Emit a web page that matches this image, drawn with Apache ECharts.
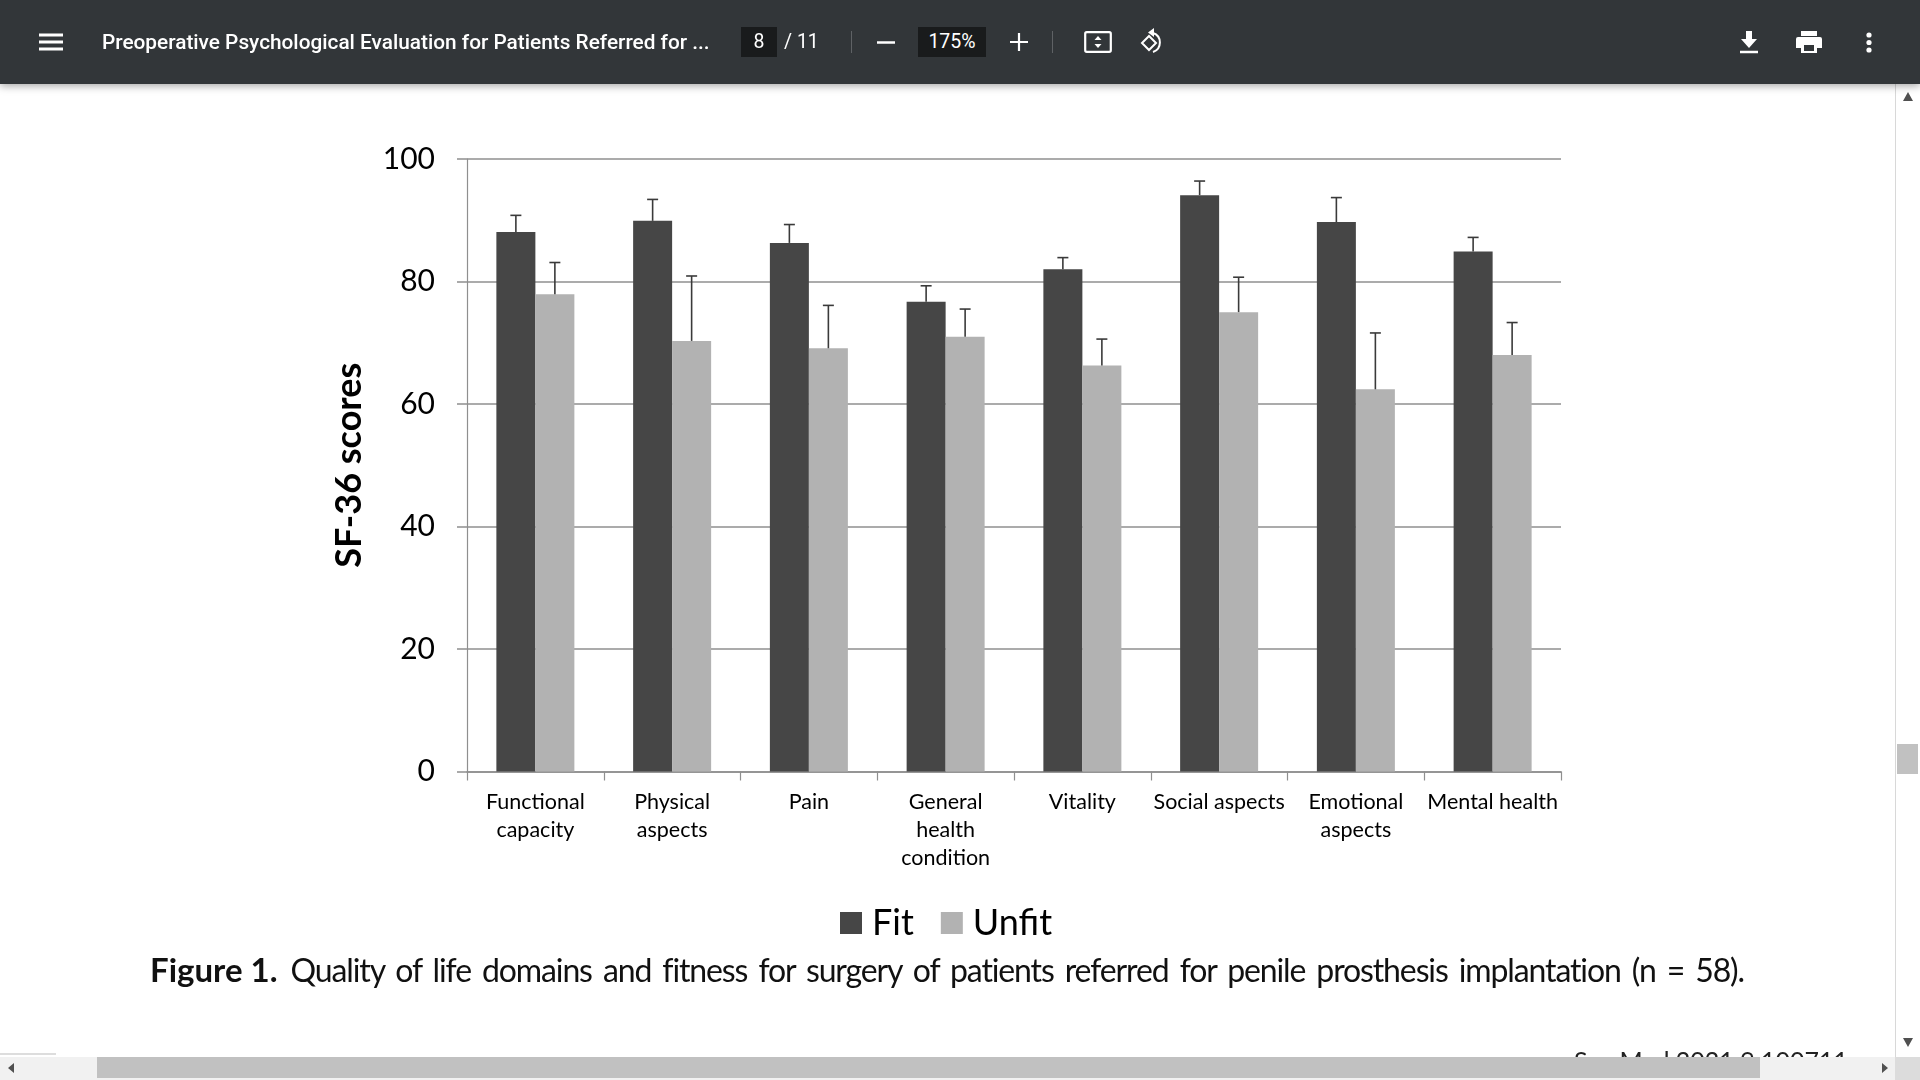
<!DOCTYPE html>
<html>
<head>
<meta charset="utf-8">
<title>SF-36 scores</title>
<script src="https://cdn.jsdelivr.net/npm/echarts@6/dist/echarts.min.js"></script>
<style>
html, body { margin: 0; width: 1920px; height: 1080px; overflow: hidden; background: #fff; }
#chart { position: absolute; left: 0; top: 0; width: 1920px; height: 1080px; }
.bar { position: absolute; left: 0; top: 0; width: 1920px; height: 84px; background: #323639; box-shadow: 0 2px 8px rgba(0,0,0,.35); color: #fff; font-family: Roboto, sans-serif; }
.bar div, .bar svg { position: absolute; }
.title { left: 102px; top: 29px; font-size: 20.8px; font-weight: 500; line-height: 26px; white-space: nowrap; }
.box { top: 27px; height: 30px; background: #191b1c; text-align: center; font-size: 19.500px; line-height: 30px; }
.sep { top: 31px; width: 1px; height: 22px; background: #5f6265; }
.caption { position: absolute; left: 150px; top: 947px; font-family: Lato, sans-serif; font-size: 32px; line-height: 44px; color: #111; white-space: nowrap; word-spacing: 4px; letter-spacing: -1.12px; }
.caption b { font-size: 33px; font-weight: 700; word-spacing: 0; letter-spacing: 0; margin-right: 2px; }
.foot { position: absolute; left: 1574px; top: 1050px; height: 7px; overflow: hidden; font-family: Lato, sans-serif; font-size: 25px; line-height: 40px; color: #222; white-space: nowrap; }
.foot span { position: relative; top: -10px; }
.vtrack { position: absolute; left: 1895px; top: 84px; width: 25px; height: 973px; background: #fff; border-left: 1px solid #d8d8d8; box-sizing: border-box; }
.vthumb { position: absolute; left: 1897px; top: 744px; width: 21px; height: 30px; background: #c1c1c1; }
.htrack { position: absolute; left: 0; top: 1057px; width: 1920px; height: 23px; background: #f1f1f1; }
.hthumb { position: absolute; left: 97px; top: 1057px; width: 1663px; height: 21px; background: #c1c1c1; }
.corner { position: absolute; left: 1895px; top: 1057px; width: 25px; height: 23px; background: #dcdcdc; }
.arrows { position: absolute; left: 0; top: 0; }
</style>
</head>
<body>
<div id="chart"></div>
<div class="caption"><b>Figure 1.</b> Quality of life domains and fitness for surgery of patients referred for penile prosthesis implantation (n = 58).</div>
<div class="foot"><span>Sex Med 2021;9:100711</span></div>
<div class="vtrack"></div>
<div class="vthumb"></div>
<div class="htrack"></div>
<div class="hthumb"></div>
<div class="corner"></div>
<svg class="arrows" width="1920" height="1080">
  <path d="M1908 92l5 9h-10z M1908 1047l5-9h-10z" fill="#505050"/>
  <path d="M8 1068l6-5v10z M1888 1068l-6-5v10z" fill="#505050"/>
  <path d="M0 1054h56" stroke="#bbb" stroke-width="1"/>
</svg>
<div class="bar">
  <svg style="left:39px;top:33px" width="24" height="18"><path d="M0 2h24M0 9h24M0 16h24" stroke="#fff" stroke-width="3"/></svg>
  <div class="title">Preoperative Psychological Evaluation for Patients Referred for ...</div>
  <div class="box" style="left:741px;width:36px">8</div>
  <div style="left:784px;top:29px;font-size:19.500px;line-height:26px">/ 11</div>
  <div class="sep" style="left:851px"></div>
  <svg style="left:877px;top:41px" width="18" height="3"><path d="M0 1.5h18" stroke="#fff" stroke-width="2.5"/></svg>
  <div class="box" style="left:918px;width:68px">175%</div>
  <svg style="left:1010px;top:33px" width="18" height="18"><path d="M0 9h18M9 0v18" stroke="#fff" stroke-width="2.2"/></svg>
  <div class="sep" style="left:1052px"></div>
  <svg style="left:1084px;top:31px" width="28" height="22"><rect x="1.2" y="1.2" width="25.6" height="19.6" rx="1.5" fill="none" stroke="#fff" stroke-width="2.2"/><path d="M14 5l3.5 4h-7zM14 17l3.5-4h-7z" fill="#fff"/></svg>
  <svg style="left:1138px;top:28px" width="28" height="28"><path d="M11 8l-7 7 7 7 7-7z" fill="none" stroke="#fff" stroke-width="2"/><path d="M15 5a10 10 0 0 1 0 19" fill="none" stroke="#fff" stroke-width="2"/><path d="M16 0v9l-6-4.500z" fill="#fff"/></svg>
  <svg style="left:1740px;top:30px" width="18" height="24"><path d="M6 1h6v8h5l-8 9-8-9h5z" fill="#fff"/><path d="M0 22h18" stroke="#fff" stroke-width="2.5"/></svg>
  <svg style="left:1796px;top:30px" width="26" height="24"><path d="M5 1h16v5H5z" fill="#fff"/><path d="M2 7h22a2 2 0 0 1 2 2v9h-5v5H5v-5H0V9a2 2 0 0 1 2-2z" fill="#fff"/><rect x="8" y="15" width="10" height="6" fill="#323639"/></svg>
  <svg style="left:1866px;top:32px" width="6" height="22"><circle cx="3" cy="3" r="2.600" fill="#fff"/><circle cx="3" cy="10.500" r="2.600" fill="#fff"/><circle cx="3" cy="18" r="2.600" fill="#fff"/></svg>
</div>
<script>
// values
const categories = ['Functional\ncapacity', 'Physical\naspects', 'Pain', 'General\nhealth\ncondition', 'Vitality', 'Social aspects', 'Emotional\naspects', 'Mental health'];
const fitValues = [88.1, 89.9, 86.3, 76.7, 82.0, 94.1, 89.7, 84.9];
const unfitValues = [77.9, 70.3, 69.1, 71.0, 66.3, 75.0, 62.4, 68.0];
const fitUpper = [90.8, 93.4, 89.3, 79.3, 83.9, 96.4, 93.7, 87.2];
const unfitUpper = [83.1, 80.9, 76.1, 75.5, 70.6, 80.7, 71.6, 73.3];
const yTicks = { min: 0, max: 100, interval: 20 };

const BAR_W = 39;
const GREY = '#8f8f8f';

// whisker above a bar: side -1 is the left bar of the pair, +1 the right one
function whisker(side) {
    return function (params, api) {
        const base = api.coord([api.value(0), api.value(1)]);
        const top = api.coord([api.value(0), api.value(2)]);
        const x = base[0] + side * BAR_W / 2;
        const style = { stroke: '#3a3a3a', lineWidth: 1.6 };
        return {
            type: 'group',
            children: [
                { type: 'line', shape: { x1: x, y1: base[1], x2: x, y2: top[1] }, style },
                { type: 'line', shape: { x1: x - 5.5, y1: top[1], x2: x + 5.5, y2: top[1] }, style }
            ]
        };
    };
}

const myChart = echarts.init(document.getElementById('chart'));
myChart.setOption({
    animation: false,
    backgroundColor: '#fff',
    textStyle: { fontFamily: 'Lato' },
    grid: { left: 467, top: 159, width: 1094, height: 612.500 },
    legend: {
        left: 835, top: 900,
        data: ['Fit', 'Unfit'],
        itemWidth: 22, itemHeight: 22, itemGap: 27,
        textStyle: { fontSize: 36, color: '#000', padding: [0, 0, 0, 5] },
        icon: 'rect'
    },
    xAxis: {
        type: 'category',
        data: categories,
        axisLine: { lineStyle: { color: GREY, width: 1.5 } },
        axisTick: { show: true, length: 9, lineStyle: { color: GREY, width: 1.2 } },
        axisLabel: { interval: 0, color: '#000', fontSize: 21.5, lineHeight: 28, margin: 17 }
    },
    yAxis: {
        type: 'value',
        min: yTicks.min, max: yTicks.max, interval: yTicks.interval,
        name: 'SF-36 scores',
        nameLocation: 'middle',
        nameGap: 100,
        nameTextStyle: { fontSize: 36, fontWeight: 'bold', color: '#000' },
        axisLine: { show: true, lineStyle: { color: GREY, width: 1.2 } },
        axisTick: { show: true, length: 10, lineStyle: { color: GREY, width: 1.5 } },
        splitLine: { lineStyle: { color: GREY, width: 1.5 } },
        axisLabel: { color: '#000', fontSize: 30, margin: 32 }
    },
    series: [
        { name: 'Fit', type: 'bar', data: fitValues, barWidth: BAR_W, barGap: 0, itemStyle: { color: '#464646' } },
        { name: 'Unfit', type: 'bar', data: unfitValues, barWidth: BAR_W, itemStyle: { color: '#b2b2b2' } },
        {
            type: 'custom', renderItem: whisker(-1), z: 5, silent: true,
            encode: { x: 0, y: [1, 2] },
            data: fitValues.map((v, i) => [i, v, fitUpper[i]])
        },
        {
            type: 'custom', renderItem: whisker(1), z: 5, silent: true,
            encode: { x: 0, y: [1, 2] },
            data: unfitValues.map((v, i) => [i, v, unfitUpper[i]])
        }
    ]
});
</script>
</body>
</html>
